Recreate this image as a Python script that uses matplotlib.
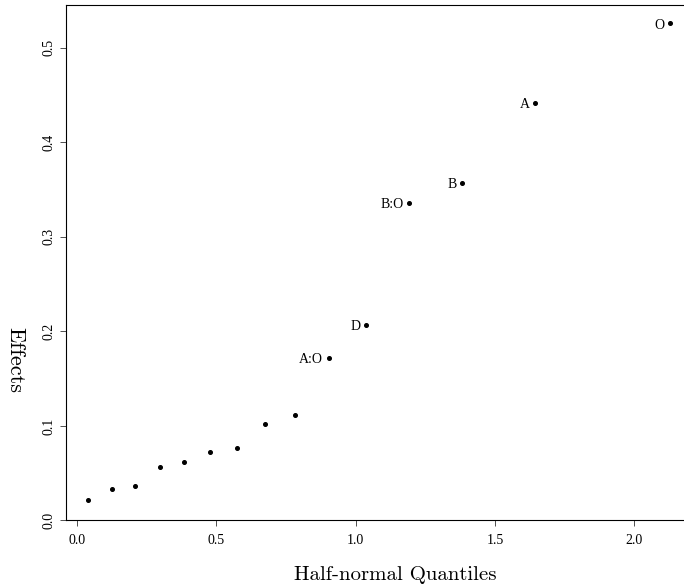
import numpy as np
import matplotlib.pyplot as plt

# half-normal quantiles (x) and absolute effects (y)
quantiles = [0.041, 0.125, 0.210, 0.297, 0.385, 0.476, 0.573, 0.674, 0.783,
             0.903, 1.036, 1.192, 1.383, 1.645, 2.128]
effects = [0.022, 0.033, 0.037, 0.057, 0.062, 0.072, 0.077, 0.102, 0.112,
           0.172, 0.207, 0.336, 0.357, 0.442, 0.526]
labels = ["", "", "", "", "", "", "", "", "",
          "A:O", "D", "B:O", "B", "A", "O"]

xticks = [0.0, 0.5, 1.0, 1.5, 2.0]
yticks = [0.0, 0.1, 0.2, 0.3, 0.4, 0.5]

def main():
    fig = plt.figure(figsize=(6.84, 5.87), dpi=100)
    # box runs past the right edge, as in the original crop
    ax = fig.add_axes([0.096, 0.1133, 0.9167, 0.878])

    ax.plot(quantiles, effects, 'o', color='black', markersize=2.6)
    for x, y, lab in zip(quantiles, effects, labels):
        if lab:
            ax.annotate(lab, (x, y), xytext=(-4, -1.5), textcoords='offset points',
                        ha='right', va='center', fontsize=10,
                        family='Liberation Serif')

    ax.set_xlim(-0.0406, 2.21)
    ax.set_ylim(0, 0.545)
    ax.set_xticks(xticks)
    ax.set_yticks(yticks)
    ax.set_xticklabels([f"{t:.1f}" for t in xticks], family='Liberation Serif', fontsize=10)
    ax.set_yticklabels([f"{t:.1f}" for t in yticks], family='Liberation Serif', fontsize=10,
                       rotation=90, va='center')
    ax.tick_params(direction='out', length=4.5, width=0.6, color='#333333')
    ax.tick_params(axis='x', pad=5)
    ax.tick_params(axis='y', pad=3)
    for s in ax.spines.values():
        s.set_linewidth(0.8)

    ax.set_xlabel("Half-normal Quantiles", family='cmr10', fontsize=15, va='center')
    ax.xaxis.set_label_coords(0.525, -0.1067)
    ax.set_ylabel("Effects", family='cmr10', fontsize=16, rotation=270, va='center')
    ax.yaxis.set_label_coords(-0.0809, 0.311)

    plt.savefig('out.png', dpi=100)


if __name__ == '__main__':
    main()
